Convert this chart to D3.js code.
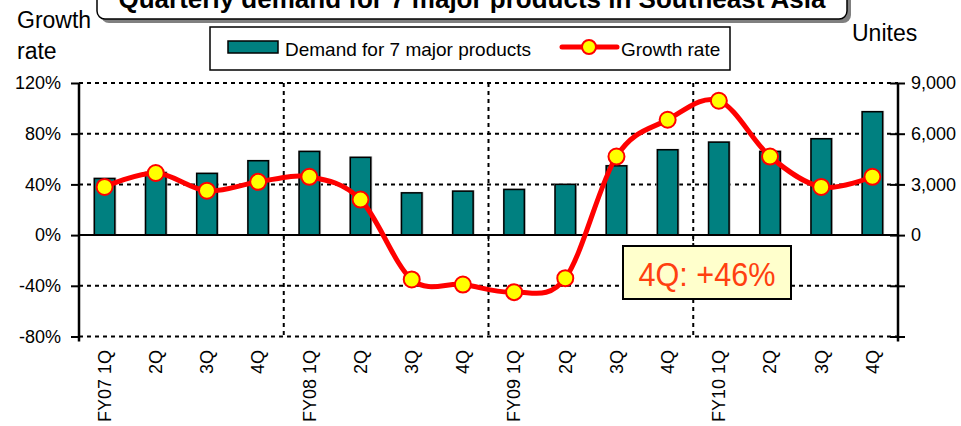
<!DOCTYPE html>
<html>
<head>
<meta charset="utf-8">
<script src="https://cdn.jsdelivr.net/npm/d3@7"></script>
<style>
  html, body { margin: 0; padding: 0; background: #fff; }
  svg { display: block; }
  text { font-family: "Liberation Sans", Arial, sans-serif; fill: #000; }
</style>
</head>
<body>
<svg id="chart" width="961" height="426"></svg>
<script>
// Quarterly categories (fiscal year / quarter)
const categories = ["FY07 1Q", "2Q", "3Q", "4Q", "FY08 1Q", "2Q", "3Q", "4Q",
                    "FY09 1Q", "2Q", "3Q", "4Q", "FY10 1Q", "2Q", "3Q", "4Q"];
// Demand for 7 major products (units)
const demand = [3350, 3700, 3650, 4400, 4950, 4600, 2500, 2600,
                2700, 3000, 4100, 5050, 5500, 4950, 5700, 7300];
// Year-on-year growth rate (%)
const growth = [38, 49, 35, 42, 46, 28, -35, -39,
                -45, -34, 62, 91, 106, 62, 38, 46];
// Axis ticks
const leftTicks = [-80, -40, 0, 40, 80, 120];
const rightTicks = [-6000, -3000, 0, 3000, 6000, 9000];
// Indices where a new fiscal year begins
const yearStarts = [4, 8, 12];

const titleText = "Quarterly demand for 7 major products in Southeast Asia";
const barLegend = "Demand for 7 major products";
const lineLegend = "Growth rate";
const calloutText = "4Q: +46%";

const svg = d3.select("#chart");
const plot = { left: 79, right: 898, top: 83, bottom: 336.5 };

const x = d3.scaleBand()
  .domain(d3.range(categories.length))
  .range([plot.left, plot.right])
  .padding(0);
const yL = d3.scaleLinear().domain([-80, 120]).range([plot.bottom, plot.top]);
const yR = d3.scaleLinear().domain([-6000, 9000]).range([plot.bottom, plot.top]);
const cx = i => x(i) + x.bandwidth() / 2;

// Horizontal dashed gridlines
svg.append("g")
  .selectAll("line")
  .data(leftTicks.filter(t => t !== 0))
  .join("line")
  .attr("x1", plot.left).attr("x2", plot.right)
  .attr("y1", d => yL(d)).attr("y2", d => yL(d))
  .attr("stroke", "#000").attr("stroke-width", 2)
  .attr("stroke-dasharray", "4,4");

// Vertical dashed separators between fiscal years
svg.append("g")
  .selectAll("line")
  .data(yearStarts)
  .join("line")
  .attr("x1", d => x(d)).attr("x2", d => x(d))
  .attr("y1", plot.top).attr("y2", plot.bottom)
  .attr("stroke", "#000").attr("stroke-width", 2)
  .attr("stroke-dasharray", "4,4");

// Bars (right axis scale)
const barW = x.bandwidth() * 0.4;
const bars = svg.append("g");
bars.selectAll("rect.shadow")
  .data(demand)
  .join("rect")
  .attr("class", "shadow")
  .attr("x", (d, i) => cx(i) - barW / 2 - 1)
  .attr("y", d => yR(d) - 1)
  .attr("width", barW + 2.5)
  .attr("height", d => yR(0) - yR(d) + 1)
  .attr("fill", "#b8b8b8");
bars.selectAll("rect.bar")
  .data(demand)
  .join("rect")
  .attr("class", "bar")
  .attr("x", (d, i) => cx(i) - barW / 2)
  .attr("y", d => yR(d))
  .attr("width", barW)
  .attr("height", d => yR(0) - yR(d))
  .attr("fill", "#008080")
  .attr("stroke", "#000").attr("stroke-width", 1.5);

// Zero baseline (category axis)
svg.append("line")
  .attr("x1", plot.left).attr("x2", plot.right)
  .attr("y1", yL(0)).attr("y2", yL(0))
  .attr("stroke", "#000").attr("stroke-width", 2);
svg.append("g")
  .selectAll("line")
  .data(yearStarts)
  .join("line")
  .attr("x1", d => x(d)).attr("x2", d => x(d))
  .attr("y1", yL(0)).attr("y2", yL(0) + 6)
  .attr("stroke", "#000").attr("stroke-width", 1.5);

// Left axis
const leftAxis = svg.append("g")
  .attr("transform", `translate(${plot.left},0)`)
  .call(d3.axisLeft(yL).tickValues(leftTicks).tickSize(8).tickPadding(10)
    .tickFormat(d => d + "%"));
leftAxis.select(".domain").attr("stroke", "#000").attr("stroke-width", 2.5)
  .attr("d", `M0,${plot.top}V${plot.bottom + 5}`);
leftAxis.selectAll(".tick line").attr("stroke", "#000").attr("stroke-width", 2)
  .attr("x1", 0);
leftAxis.selectAll(".tick text")
  .attr("font-size", 18).attr("fill", "#000")
  .style("font-family", '"Liberation Sans", Arial, sans-serif');

// Right axis
const rightAxis = svg.append("g")
  .attr("transform", `translate(${plot.right},0)`)
  .call(d3.axisRight(yR).tickValues(rightTicks).tickSize(7).tickPadding(6)
    .tickFormat(d => d >= 0 ? d3.format(",")(d) : ""));
rightAxis.select(".domain").attr("stroke", "#000").attr("stroke-width", 2.5)
  .attr("d", `M0,${plot.top}V${plot.bottom + 5}`);
rightAxis.selectAll(".tick line").attr("stroke", "#000").attr("stroke-width", 2)
  .attr("x1", -8);
rightAxis.selectAll(".tick text")
  .attr("font-size", 18).attr("fill", "#000")
  .style("font-family", '"Liberation Sans", Arial, sans-serif');

// Category labels, rotated
svg.append("g")
  .selectAll("text")
  .data(categories)
  .join("text")
  .attr("transform", (d, i) => `translate(${cx(i)},350) rotate(-90)`)
  .attr("text-anchor", "end")
  .attr("dy", "0.35em")
  .attr("font-size", 18)
  .text(d => d);

// Smoothed growth-rate line with markers
const line = d3.line()
  .x((d, i) => cx(i))
  .y(d => yL(d))
  .curve(d3.curveCardinal.tension(0));
svg.append("path")
  .datum(growth)
  .attr("d", line)
  .attr("fill", "none")
  .attr("stroke", "#ff0000")
  .attr("stroke-width", 5)
  .attr("stroke-linejoin", "round");
svg.append("g")
  .selectAll("circle")
  .data(growth)
  .join("circle")
  .attr("cx", (d, i) => cx(i))
  .attr("cy", d => yL(d))
  .attr("r", 8)
  .attr("fill", "#ffff00")
  .attr("stroke", "#ff0000")
  .attr("stroke-width", 2);

// Callout for the latest quarter
const callout = svg.append("g");
callout.append("rect")
  .attr("x", 623).attr("y", 246).attr("width", 168).attr("height", 53)
  .attr("fill", "#ffffcc").attr("stroke", "#000").attr("stroke-width", 2);
callout.append("text")
  .attr("x", 707).attr("y", 286)
  .attr("text-anchor", "middle")
  .attr("font-size", 33)
  .attr("textLength", 137).attr("lengthAdjust", "spacingAndGlyphs")
  .style("fill", "#ff4010")
  .text(calloutText);

// Title box with drop shadow
const title = svg.append("g");
title.append("rect")
  .attr("x", 101).attr("y", -30).attr("width", 750).attr("height", 53)
  .attr("rx", 8).attr("fill", "#808080");
title.append("rect")
  .attr("x", 97).attr("y", -34).attr("width", 750).attr("height", 53)
  .attr("rx", 8).attr("fill", "#fff").attr("stroke", "#000").attr("stroke-width", 1.5);
title.append("text")
  .attr("x", 472).attr("y", 8)
  .attr("text-anchor", "middle")
  .attr("font-size", 26).attr("font-weight", "bold")
  .text(titleText);

// Axis titles
svg.append("text").attr("x", 17).attr("y", 28).attr("font-size", 23).text("Growth");
svg.append("text").attr("x", 17).attr("y", 59).attr("font-size", 23).text("rate");
svg.append("text").attr("x", 852).attr("y", 41).attr("font-size", 23).text("Unites");

// Legend
const legend = svg.append("g");
legend.append("rect")
  .attr("x", 210).attr("y", 27).attr("width", 520).attr("height", 43)
  .attr("fill", "#fff").attr("stroke", "#000").attr("stroke-width", 1.5);
legend.append("rect")
  .attr("x", 228).attr("y", 41).attr("width", 50).attr("height", 12)
  .attr("fill", "#008080").attr("stroke", "#000").attr("stroke-width", 1.5);
legend.append("text").attr("x", 285).attr("y", 56).attr("font-size", 19).text(barLegend);
legend.append("line")
  .attr("x1", 562).attr("x2", 617).attr("y1", 47).attr("y2", 47)
  .attr("stroke", "#ff0000").attr("stroke-width", 5).attr("stroke-linecap", "round");
legend.append("circle")
  .attr("cx", 589).attr("cy", 47).attr("r", 7)
  .attr("fill", "#ffff00").attr("stroke", "#ff0000").attr("stroke-width", 2);
legend.append("text").attr("x", 621).attr("y", 56).attr("font-size", 19).text(lineLegend);
</script>
</body>
</html>
